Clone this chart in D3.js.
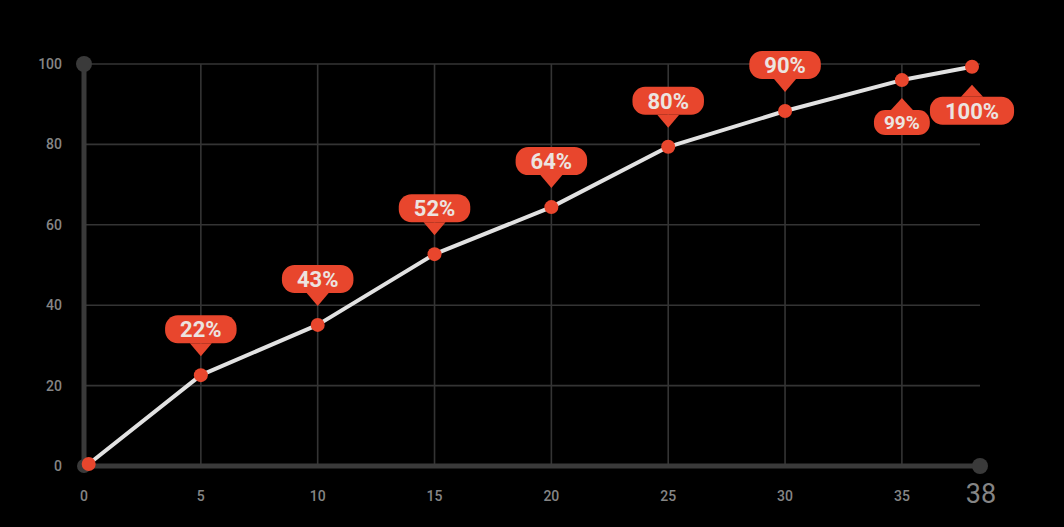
<!DOCTYPE html>
<html><head><meta charset="utf-8">
<script src="https://cdn.jsdelivr.net/npm/d3@7/dist/d3.min.js"></script>
<style>html,body{margin:0;padding:0;background:#000;}svg{display:block;}</style>
</head><body>
<svg id="c" width="1064" height="527"></svg>
<script>
const xValues = [0.2, 5, 10, 15, 20, 25, 30, 35, 38];
const yValues = [0.5, 22.6, 35.1, 52.7, 64.4, 79.4, 88.3, 96.0, 99.3];
const pointLabels = [null, "22%", "43%", "52%", "64%", "80%", "90%", "99%", "100%"];
const labelSide = [null, "above", "above", "above", "above", "above", "above", "below", "below"];
const xTicks = [0, 5, 10, 15, 20, 25, 30, 35];
const xEndTick = 38;
const yTicks = [0, 20, 40, 60, 80, 100];

const svg = d3.select("#c");
const x = d3.scaleLinear().domain([0, 38]).range([84, 972]);
const y = d3.scaleLinear().domain([0, 100]).range([466, 64]);
const xEnd = x(38) + 8;
const gridColor = "#343434";
const red = "#e8462d";

// grid
svg.append("g").selectAll("line").data(yTicks.filter(d => d > 0)).join("line")
  .attr("x1", x(0)).attr("x2", xEnd).attr("y1", d => y(d)).attr("y2", d => y(d))
  .attr("stroke", gridColor).attr("stroke-width", 1.6);
svg.append("g").selectAll("line").data(xTicks.filter(d => d > 0)).join("line")
  .attr("x1", d => x(d)).attr("x2", d => x(d)).attr("y1", y(100)).attr("y2", y(0))
  .attr("stroke", gridColor).attr("stroke-width", 1.6);

// axes lines
svg.append("line").attr("x1", x(0)).attr("x2", x(0)).attr("y1", y(100)).attr("y2", y(0))
  .attr("stroke", "#3a3a3a").attr("stroke-width", 5);
svg.append("line").attr("x1", x(0)).attr("x2", xEnd).attr("y1", y(0)).attr("y2", y(0))
  .attr("stroke", "#3a3a3a").attr("stroke-width", 5);
svg.append("circle").attr("cx", x(0)).attr("cy", y(100)).attr("r", 8).attr("fill", "#3a3a3a");
svg.append("circle").attr("cx", xEnd).attr("cy", y(0)).attr("r", 8).attr("fill", "#3a3a3a");
svg.append("circle").attr("cx", x(0)).attr("cy", y(0)).attr("r", 7).attr("fill", "#3a3a3a");

// tick labels
svg.append("g").selectAll("text").data(yTicks).join("text")
  .attr("x", 62).attr("y", d => y(d)).attr("dy", "0.36em").attr("text-anchor", "end")
  .attr("fill", "#858585").attr("font-family", "Roboto, sans-serif").attr("font-size", 14)
  .attr("font-weight", 500).text(d => d);
svg.append("g").selectAll("text").data(xTicks).join("text")
  .attr("x", d => x(d)).attr("y", 501).attr("text-anchor", "middle")
  .attr("fill", "#858585").attr("font-family", "Roboto, sans-serif").attr("font-size", 14)
  .attr("font-weight", 500).text(d => d);
svg.append("text").attr("x", xEnd + 1).attr("y", 503).attr("text-anchor", "middle")
  .attr("fill", "#858585").attr("font-family", "Roboto, sans-serif").attr("font-size", 27)
  .text(xEndTick);

// line
const pts = xValues.map((v, i) => [v, yValues[i]]);
svg.append("path").datum(pts)
  .attr("d", d3.line().x(d => x(d[0])).y(d => y(d[1])))
  .attr("fill", "none").attr("stroke", "#e2e2e2").attr("stroke-width", 4)
  .attr("stroke-linejoin", "round");

svg.append("g").selectAll("circle").data(pts).join("circle")
  .attr("cx", d => x(d[0])).attr("cy", d => y(d[1])).attr("r", 7).attr("fill", red);

// callouts
pts.forEach((p, i) => {
  const lab = pointLabels[i];
  if (!lab) return;
  const cx = x(p[0]), cy = y(p[1]);
  const small = lab === "99%";
  const fs = small ? 19 : 22;
  const h = small ? 25 : 28;
  const g = svg.append("g");
  const t = g.append("text").text(lab)
    .attr("font-family", "Roboto, sans-serif").attr("font-weight", 700).attr("font-size", fs)
    .attr("fill", "#ece4e0").attr("text-anchor", "middle");
  const w = t.node().getComputedTextLength() + (small ? 20 : 30);
  let top, triPath;
  if (labelSide[i] === "above") {
    const tip = cy - 19;
    const base = tip - 13;
    top = base - h;
    triPath = `M${cx - 11},${base} L${cx + 11},${base} L${cx},${tip} Z`;
  } else {
    const tip = cy + 18;
    const base = tip + 12;
    top = base;
    triPath = `M${cx - 11},${base} L${cx + 11},${base} L${cx},${tip} Z`;
  }
  g.insert("path", "text").attr("d", triPath).attr("fill", red);
  g.insert("rect", "text").attr("x", cx - w / 2).attr("y", top).attr("width", w).attr("height", h)
    .attr("rx", h / 2.2).attr("fill", red);
  t.attr("x", cx).attr("y", top + h / 2).attr("dy", "0.36em");
});
</script>
</body></html>
